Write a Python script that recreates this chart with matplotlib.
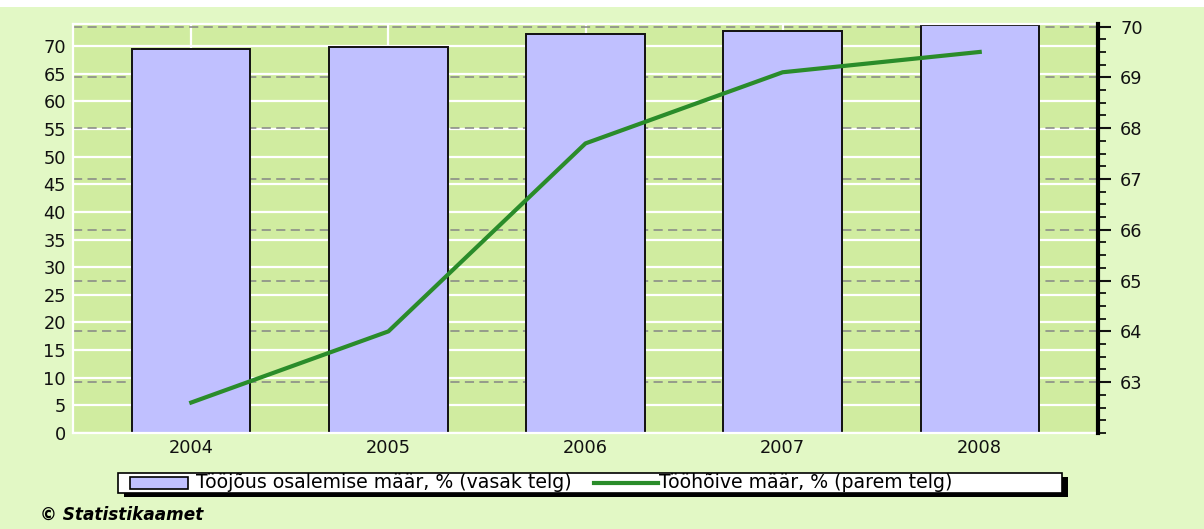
import numpy as np
import matplotlib
matplotlib.use('Agg')
import matplotlib.pyplot as plt
from matplotlib.patches import Rectangle
from matplotlib.lines import Line2D
from matplotlib.ticker import MultipleLocator
from matplotlib.transforms import blended_transform_factory

# data
years = ['2004', '2005', '2006', '2007', '2008']
participation = [69.5, 69.8, 72.2, 72.7, 73.9]   # left axis, bars
employment = [62.6, 64.0, 67.7, 69.1, 69.5]      # right axis, line
left_ticks = list(range(0, 75, 5))
right_ticks = [63, 64, 65, 66, 67, 68, 69, 70]
label_bars = 'Tööjõus osalemise määr, % (vasak telg)'
label_line = 'Tööhõive määr, % (parem telg)'
source = '© Statistikaamet'

page_green = '#E2F8C5'
plot_green = '#D0ECA0'
bar_color = '#C0C0FF'
line_color = '#2A8C2A'
dash_gray = '#858585'

W, H = 1204, 529
plt.rcParams['font.family'] = 'DejaVu Sans'
fig = plt.figure(figsize=(W / 100, H / 100), dpi=100, facecolor='white')


def fx(px):
    return px / W


def fy(py):
    return 1 - py / H


# light green page under the thin white strip at the top
fig.patches.append(Rectangle((0, 0), 1, fy(7), transform=fig.transFigure,
                             facecolor=page_green, edgecolor='none', zorder=-10))

ax = fig.add_axes([fx(73), fy(433), (1098 - 73) / W, (433 - 24) / H])
ax.set_facecolor(plot_green)
x = np.arange(len(years))
ax.bar(x, participation, width=0.6, color=bar_color, edgecolor='#111111',
       linewidth=1.4, zorder=2)
ax.set_xticks(x, years)
ax.set_yticks(left_ticks)
ax.set_axisbelow(True)
ax.grid(True, color='white', linewidth=1.6)
ax.tick_params(length=0, labelsize=12.8, colors='#111111')
ax.tick_params(axis='y', pad=5)
ax.tick_params(axis='x', pad=4)
for side in ['left', 'top', 'bottom']:
    ax.spines[side].set_color('white')
    ax.spines[side].set_linewidth(1.6)
ax.spines['right'].set_visible(False)

ax2 = ax.twinx()
ax2.plot(x, employment, color=line_color, linewidth=3.0, zorder=3)
ax2.set_ylim(62, 70.05)
ax2.set_yticks(right_ticks)
ax2.yaxis.set_minor_locator(MultipleLocator(0.25))
ax2.tick_params(which='major', length=9, width=1.5, direction='out',
                labelsize=12.8, pad=7, colors='#111111')
ax2.tick_params(which='minor', length=6, width=1.2, direction='out')
for side in ['left', 'top', 'bottom']:
    ax2.spines[side].set_visible(False)
ax2.spines['right'].set_linewidth(3)

# dashed grid belongs to the right axis but sits behind the bars
trans = blended_transform_factory(ax.transAxes, ax2.transData)
for v in right_ticks:
    ax.plot([0, 1], [v, v], transform=trans, color=dash_gray, linewidth=1.1,
            linestyle=(0, (6, 3.5)), zorder=1)

ax.set_xlim(-0.6, 4.6)
ax.set_ylim(0, 74)

# legend box with black drop shadow
fig.patches.append(Rectangle((fx(124), fy(497)), (1062 - 118) / W, 20 / H,
                             transform=fig.transFigure, facecolor='black',
                             edgecolor='none', zorder=1))
fig.patches.append(Rectangle((fx(118), fy(493)), (1062 - 118) / W, 20 / H,
                             transform=fig.transFigure, facecolor='white',
                             edgecolor='black', linewidth=1.2, zorder=2))
fig.patches.append(Rectangle((fx(130), fy(489)), 58 / W, 12 / H,
                             transform=fig.transFigure, facecolor=bar_color,
                             edgecolor='black', linewidth=1.2, zorder=3))
fig.text(fx(196), fy(483), label_bars, fontsize=13.6, va='center', ha='left',
         zorder=3)
fig.lines.append(Line2D([fx(594), fx(658)], [fy(483), fy(483)],
                        transform=fig.transFigure, color=line_color,
                        linewidth=3.0, zorder=3))
fig.text(fx(659), fy(483), label_line, fontsize=13.6, va='center', ha='left',
         zorder=3)

fig.text(fx(40), fy(515), source, fontsize=12.2, style='italic',
         fontweight='bold', va='center', ha='left')

fig.savefig('out.png', dpi=100, facecolor=fig.get_facecolor())
